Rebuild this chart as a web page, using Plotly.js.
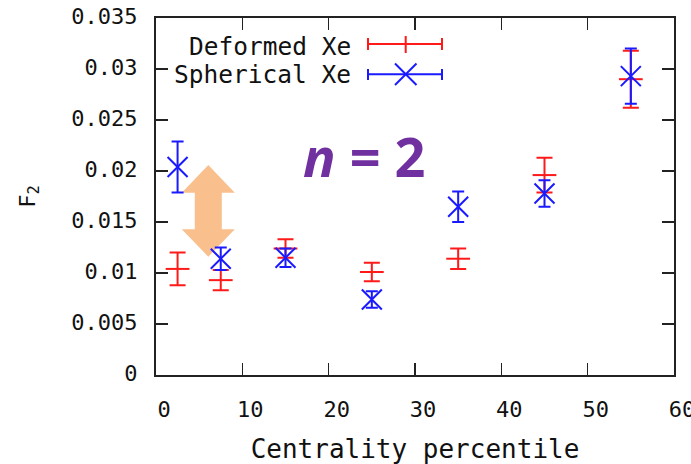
<!DOCTYPE html>
<html>
<head>
<meta charset="utf-8">
<script src="https://cdn.plot.ly/plotly-3.0.1.min.js"></script>
<style>html,body{margin:0;padding:0;background:#fff;}#chart{width:691px;height:464px;}</style>
</head>
<body>
<div id="chart"></div>
<script>
// Centrality percentile (bin centres)
const centrality = [2.5, 7.5, 15, 25, 35, 45, 55];
// Deformed Xe
const deformedF2 = [0.0104, 0.0093, 0.0124, 0.0101, 0.0114, 0.0196, 0.0290];
const deformedErr = [0.0016, 0.0010, 0.0009, 0.0009, 0.0010, 0.0017, 0.0028];
// Spherical Xe
const sphericalF2 = [0.0204, 0.0114, 0.0115, 0.0074, 0.0165, 0.0178, 0.0293];
const sphericalErr = [0.0025, 0.0011, 0.0009, 0.0008, 0.0015, 0.0013, 0.0027];

const seriesNames = ["Deformed Xe", "Spherical Xe"];
const xTicks = [0, 10, 20, 30, 40, 50, 60];
const xTickText = ["0", "10", "20", "30", "40", "50", "60"];
const yTicks = [0, 0.005, 0.01, 0.015, 0.02, 0.025, 0.03, 0.035];
const yTickText = ["0", "0.005", "0.01", "0.015", "0.02", "0.025", "0.03", "0.035"];

const RED = "#ff1a1a", BLUE = "#1a1aff";
const MONO = "DejaVu Sans Mono, monospace";

// plot-area pixel frame -> paper coordinates (for decorations only)
const L = 156, R = 674, T = 18, B = 375;
const fx = px => (px - L) / (R - L);
const fy = py => (B - py) / (B - T);

const traces = [
  {
    x: centrality, y: deformedF2, name: seriesNames[0], type: "scatter", mode: "markers",
    marker: {symbol: "line-ew", size: 17, color: RED, line: {color: RED, width: 2}},
    error_y: {type: "data", array: deformedErr, visible: true, color: RED, thickness: 2, width: 8},
    showlegend: false
  },
  {
    x: centrality, y: sphericalF2, name: seriesNames[1], type: "scatter", mode: "markers",
    marker: {symbol: "x-thin", size: 20, color: BLUE, line: {color: BLUE, width: 2}},
    error_y: {type: "data", array: sphericalErr, visible: true, color: BLUE, thickness: 2, width: 6},
    showlegend: false
  }
];

function seg(x0, y0, x1, y1, color) {
  return {type: "line", xref: "paper", yref: "paper", x0: fx(x0), y0: fy(y0), x1: fx(x1), y1: fy(y1),
          line: {color: color, width: 2}};
}

// double-headed arrow (decoration)
const ax = 208.3;
const arrowPts = [
  [ax, 165], [ax + 26.5, 192.7], [ax + 13.5, 192.7], [ax + 13.5, 229.3], [ax + 26.5, 229.3],
  [ax, 256.7], [ax - 26.5, 229.3], [ax - 13.5, 229.3], [ax - 13.5, 192.7], [ax - 26.5, 192.7]
];
const arrowPath = "M" + arrowPts.map(p => fx(p[0]).toFixed(5) + "," + fy(p[1]).toFixed(5)).join(" L") + " Z";

const shapes = [
  {type: "path", xref: "paper", yref: "paper", path: arrowPath, fillcolor: "#f9c08e", line: {width: 0}, layer: "below"},
  // legend sample: Deformed Xe
  seg(368, 44, 442, 44, RED), seg(368, 38, 368, 50, RED), seg(442, 38, 442, 50, RED), seg(405.7, 36, 405.7, 53, RED),
  // legend sample: Spherical Xe
  seg(368, 74.3, 442, 74.3, BLUE), seg(368, 69, 368, 80, BLUE), seg(442, 69, 442, 80, BLUE),
  seg(395, 63.5, 416.5, 85, BLUE), seg(395, 85, 416.5, 63.5, BLUE)
];

const annotations = [
  {xref: "paper", yref: "paper", x: fx(353), y: fy(46), xanchor: "right", yanchor: "middle", showarrow: false,
   text: seriesNames[0], font: {family: MONO, size: 24.5, color: "#111"}},
  {xref: "paper", yref: "paper", x: fx(353), y: fy(74), xanchor: "right", yanchor: "middle", showarrow: false,
   text: seriesNames[1], font: {family: MONO, size: 24.5, color: "#111"}},
  {xref: "paper", yref: "paper", x: fx(364), y: fy(156), xanchor: "center", yanchor: "middle", showarrow: false,
   text: "<b><i>n</i> = 2</b>", font: {family: "Open Sans, sans-serif", size: 54, color: "#7030a0"}}
];

const layout = {
  width: 691, height: 464,
  margin: {l: L, r: 691 - R, t: T, b: 464 - B, pad: 0},
  paper_bgcolor: "#fff", plot_bgcolor: "#fff",
  showlegend: false,
  xaxis: {
    range: [0, 60], tickvals: xTicks, ticktext: xTickText, automargin: false, ticklabeloverflow: "allow",
    showgrid: false, zeroline: false, showline: true, linecolor: "#222", linewidth: 2, mirror: "ticks",
    ticks: "inside", ticklen: 12, tickwidth: 1.5, tickcolor: "#222",
    tickfont: {family: MONO, size: 22, color: "#111"}, ticklabelstandoff: 14, ticklabelshift: 8,
    title: {text: "Centrality percentile", font: {family: MONO, size: 26, color: "#111"}, standoff: 28}
  },
  yaxis: {
    range: [0, 0.035], tickvals: yTicks, ticktext: yTickText, automargin: false, ticklabeloverflow: "allow",
    showgrid: false, zeroline: false, showline: true, linecolor: "#222", linewidth: 2, mirror: "ticks",
    ticks: "inside", ticklen: 12, tickwidth: 1.5, tickcolor: "#222",
    tickfont: {family: MONO, size: 22, color: "#111"}, ticklabelstandoff: 12, ticklabelshift: -2,
    title: {text: "F<sub>2</sub>", font: {family: MONO, size: 22, color: "#111"}, standoff: 30}
  },
  shapes: shapes,
  annotations: annotations
};

Plotly.newPlot("chart", traces, layout, {staticPlot: true, displayModeBar: false});
</script>
</body>
</html>
